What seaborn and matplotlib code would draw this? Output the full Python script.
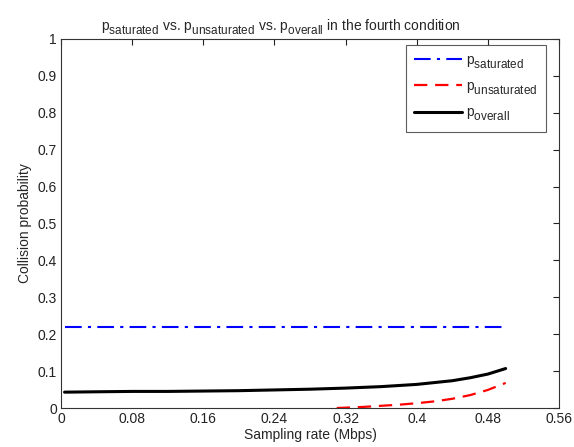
import seaborn as sns
import matplotlib.pyplot as plt
import matplotlib._mathtext as mathtext_internal
from matplotlib.ticker import FormatStrFormatter

# Sampling rate (Mbps) and collision probabilities
rate_all = [0.004, 0.04, 0.08, 0.12, 0.16, 0.20, 0.24, 0.28, 0.32, 0.36, 0.40, 0.44, 0.46, 0.48, 0.50]
p_saturated = [0.22] * len(rate_all)
p_overall = [0.043, 0.044, 0.045, 0.045, 0.046, 0.047, 0.049, 0.051, 0.054, 0.058, 0.064, 0.074, 0.082, 0.092, 0.107]

rate_unsat = [0.31, 0.32, 0.34, 0.36, 0.38, 0.40, 0.42, 0.44, 0.46, 0.48, 0.50]
p_unsaturated = [0.0, 0.001, 0.003, 0.006, 0.009, 0.013, 0.018, 0.025, 0.035, 0.049, 0.068]

xticks = [0, 0.08, 0.16, 0.24, 0.32, 0.4, 0.48, 0.56]
yticks = [0, 0.1, 0.2, 0.3, 0.4, 0.5, 0.6, 0.7, 0.8, 0.9, 1]

# MATLAB-like subscripts: bigger and lower than the mathtext default
mathtext_internal.SHRINK_FACTOR = 0.85
mathtext_internal.FontConstantsBase.sub1 = 0.6

sns.set_style("white")
plt.rcParams["font.family"] = ["Liberation Sans", "DejaVu Sans"]
plt.rcParams["mathtext.fontset"] = "custom"
plt.rcParams["mathtext.rm"] = "Liberation Sans"
plt.rcParams["mathtext.it"] = "Liberation Sans"
plt.rcParams["font.size"] = 10

fig = plt.figure(figsize=(5.74, 4.47), dpi=100)
ax = fig.add_axes([0.1063, 0.0872, 0.8676, 0.8256])

sns.lineplot(x=rate_all, y=p_saturated, ax=ax, color="blue", lw=1.5,
             label=r"$\mathregular{p_{saturated}}$")
sns.lineplot(x=rate_unsat, y=p_unsaturated, ax=ax, color="red", lw=1.6,
             label=r"$\mathregular{p_{unsaturated}}$")
sns.lineplot(x=rate_all, y=p_overall, ax=ax, color="black", lw=2.2,
             label=r"$\mathregular{p_{overall}}$")
ax.lines[0].set_dashes([8, 3, 1.5, 3])
ax.lines[1].set_dashes([6, 3.5])

ax.set_xlim(0, 0.56)
ax.set_ylim(0, 1)
ax.set_xticks(xticks)
ax.set_yticks(yticks)
ax.yaxis.set_major_formatter(FormatStrFormatter("%g"))
ax.xaxis.set_major_formatter(FormatStrFormatter("%g"))
ax.tick_params(direction="in", top=True, right=True, length=4, width=0.8,
               labelsize=10, pad=3, colors="#222222")
for s in ax.spines.values():
    s.set_color("#333333")
    s.set_linewidth(0.8)

ax.set_xlabel("Sampling rate (Mbps)", fontsize=10, labelpad=1)
ax.set_ylabel("Collision probability", fontsize=10, labelpad=4)
ax.set_title(r"$\mathregular{p_{saturated}}$ vs. $\mathregular{p_{unsaturated}}$ vs. "
             r"$\mathregular{p_{overall}}$ in the fourth condition",
             fontsize=10, x=0.442, pad=6)

leg = ax.legend(loc="upper right", bbox_to_anchor=(0.973, 0.984), fontsize=10,
                handlelength=3.4, fancybox=False, edgecolor="#333333",
                labelspacing=0.6, borderpad=0.6, handletextpad=0.3,
                borderaxespad=0)
leg.get_frame().set_linewidth(0.8)

plt.savefig("out.png", dpi=100)
